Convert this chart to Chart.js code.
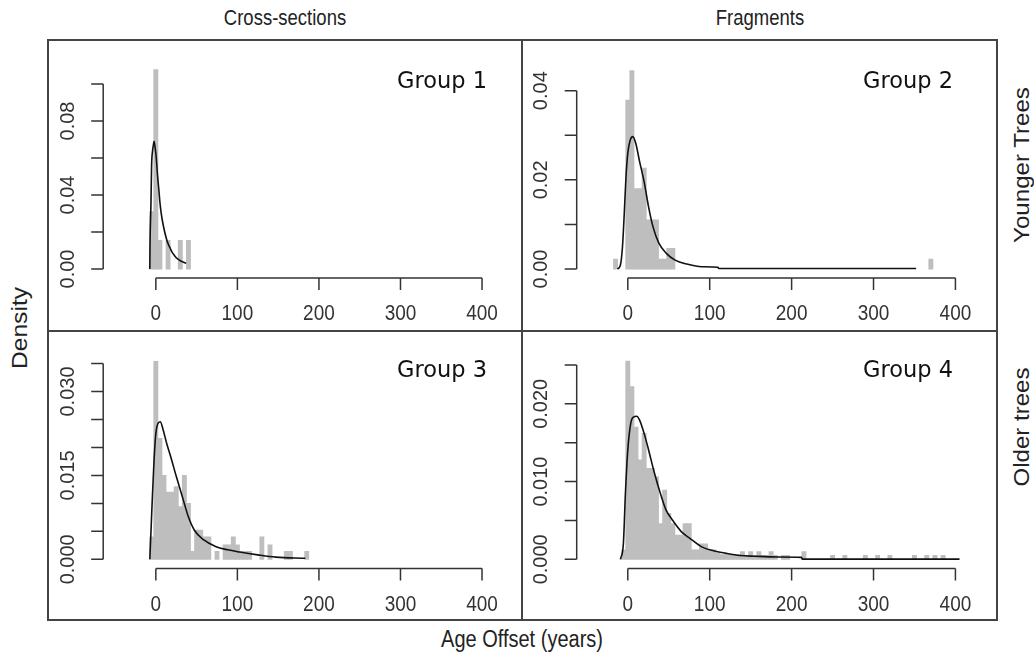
<!DOCTYPE html>
<html>
<head>
<meta charset="utf-8">
<script src="https://cdn.jsdelivr.net/npm/chart.js@4.4.1/dist/chart.umd.min.js"></script>
<style>
body { margin: 0; background: #fff; width: 1034px; height: 656px; position: relative; overflow: hidden;
       font-family: "Liberation Sans", Arial, sans-serif; color: #222; }
canvas { position: absolute; }
.line { position: absolute; background: #444; }
.txt { position: absolute; white-space: nowrap; transform: translate(-50%, -50%) scaleY(1.15); }
.rot { transform: translate(-50%, -50%) rotate(-90deg) scaleX(1.12); }
.grp { font-family: "DejaVu Sans", Verdana, sans-serif; font-size: 22.5px; color: #111; transform: translate(-50%, -50%); }
</style>
</head>
<body>

<div class="line" style="left:47px;top:39px;width:951px;height:2px"></div>
<div class="line" style="left:47px;top:619px;width:951px;height:2px"></div>
<div class="line" style="left:47px;top:39px;width:2px;height:582px"></div>
<div class="line" style="left:996px;top:39px;width:2px;height:582px"></div>
<div class="line" style="left:521px;top:39px;width:2px;height:582px"></div>
<div class="line" style="left:47px;top:330px;width:951px;height:2px"></div>

<canvas id="g1" width="474" height="291" style="left:48px;top:40px"></canvas>
<canvas id="g2" width="475" height="291" style="left:522px;top:40px"></canvas>
<canvas id="g3" width="474" height="290" style="left:48px;top:331px"></canvas>
<canvas id="g4" width="475" height="290" style="left:522px;top:331px"></canvas>

<div class="txt" style="left:285px;top:18px;font-size:18.5px">Cross-sections</div>
<div class="txt" style="left:760px;top:18px;font-size:18.5px">Fragments</div>
<div class="txt rot" style="left:1022px;top:165px;font-size:21.5px">Younger Trees</div>
<div class="txt rot" style="left:1022px;top:427px;font-size:21.5px">Older trees</div>
<div class="txt rot" style="left:20px;top:328px;font-size:22px">Density</div>
<div class="txt" style="left:522px;top:640px;font-size:20px">Age Offset (years)</div>

<div class="txt grp" style="left:442px;top:80px">Group 1</div>
<div class="txt grp" style="left:908px;top:80px">Group 2</div>
<div class="txt grp" style="left:442px;top:369px">Group 3</div>
<div class="txt grp" style="left:908px;top:369px">Group 4</div>

<script>
// x axis (age offset, years) shared by all panels
const xTicks = [0, 100, 200, 300, 400];
const xTickLabels = ['0', '100', '200', '300', '400'];

// Group 1: cross-sections, younger trees
const g1Bins = [-5, 0, 5, 15, 30, 40];
const g1Density = [0.031, 0.1077, 0.0154, 0.0154, 0.0154, 0.0154];
const g1CurveX = [-7.4, -7.2, -6.0, -5.2, -4.0, -3.0, -2.2, -1.0, 0.5, 2.0, 3.7, 5.0, 6.6, 8.5, 10.3, 12.0, 14.0, 17.0, 19.5, 22.0, 25.0, 28.0, 30.6, 34.0, 37.2];
const g1CurveY = [0, 0.011, 0.035, 0.056, 0.064, 0.067, 0.069, 0.066, 0.060, 0.051, 0.0427, 0.036, 0.0301, 0.025, 0.0211, 0.018, 0.0148, 0.0118, 0.0094, 0.0078, 0.0061, 0.0051, 0.0043, 0.0036, 0.0031];
const g1YTicks = [0, 0.02, 0.04, 0.06, 0.08, 0.10];
const g1YLabels = ['0.00', '', '0.04', '', '0.08', ''];

// Group 2: fragments, younger trees
const g2Bins = [-15, 0, 5, 10, 15, 20, 25, 30, 35, 40, 45, 50, 55, 370];
const g2Density = [0.0022, 0.0379, 0.0445, 0.018, 0.018, 0.0226, 0.011, 0.011, 0.011, 0.0022, 0.0022, 0.0046, 0.0046, 0.0022];
const g2CurveX = [-12.6, -9, -6.5, -4.3, -2.2, 0, 2.9, 6.1, 9.7, 14.4, 19.9, 25.3, 30.7, 37.9, 47, 57.8, 72.2, 90, 110, 111, 200, 352];
const g2CurveY = [0, 0.0009, 0.005, 0.0125, 0.0207, 0.026, 0.0289, 0.0297, 0.0282, 0.0241, 0.0196, 0.014, 0.0095, 0.0058, 0.0035, 0.002, 0.0011, 0.0005, 0.0004, 0.0001, 0.0001, 0.0001];
const g2YTicks = [0, 0.01, 0.02, 0.03, 0.04];
const g2YLabels = ['0.00', '', '0.02', '', '0.04'];

// Group 3: cross-sections, older trees
const g3Bins = [-5, 0, 5, 10, 15, 20, 25, 30, 35, 40, 45, 50, 55, 60, 65, 75, 85, 90, 95, 100, 105, 110, 115, 130, 140, 160, 165, 185];
const g3Density = [0.004, 0.0354, 0.0216, 0.015, 0.012, 0.012, 0.013, 0.0094, 0.015, 0.010, 0.0014, 0.0052, 0.0052, 0.004, 0.004, 0.0014, 0.0026, 0.0026, 0.004, 0.0026, 0.0014, 0.0014, 0.0014, 0.004, 0.0026, 0.0014, 0.0014, 0.0014];
const g3CurveX = [-7.4, -5.9, -4.4, -2.2, 0, 3, 5.5, 8.5, 13.3, 17.7, 25.1, 32.5, 39.9, 47.3, 58.4, 73.2, 88, 102.8, 125, 147, 183.4];
const g3CurveY = [0, 0.0052, 0.0106, 0.0177, 0.0225, 0.0244, 0.0246, 0.0234, 0.0207, 0.0186, 0.0148, 0.0112, 0.0076, 0.0052, 0.0035, 0.0023, 0.0017, 0.0013, 0.0008, 0.0004, 0.0002];
const g3YTicks = [0, 0.005, 0.010, 0.015, 0.020, 0.025, 0.030, 0.035];
const g3YLabels = ['0.000', '', '', '0.015', '', '', '0.030', ''];

// Group 4: fragments, older trees
const g4Bins = [-5, 0, 5, 10, 15, 20, 25, 30, 35, 40, 45, 50, 55, 60, 65, 70, 75, 80, 85, 90, 95, 100, 105, 110, 115, 120, 125, 130, 135, 140, 145, 150, 155, 160, 165, 170, 175, 180, 190, 195, 215, 250, 265, 290, 305, 320, 350, 365, 375, 385];
const g4Density = [0.0012, 0.0255, 0.0222, 0.017, 0.0128, 0.0162, 0.0117, 0.0117, 0.0106, 0.0046, 0.0089, 0.0059, 0.0046, 0.0031, 0.0031, 0.0046, 0.0046, 0.0012, 0.0012, 0.002, 0.002, 0.0012, 0.0012, 0.0008, 0.0006, 0.0006, 0.0006, 0.0006, 0.0006, 0.001, 0.0005, 0.001, 0.0005, 0.001, 0.0005, 0.0005, 0.001, 0.0005, 0.0005, 0.0005, 0.001, 0.0005, 0.0005, 0.0005, 0.0005, 0.0005, 0.0005, 0.0005, 0.0005, 0.0005];
const g4CurveX = [-9, -5.4, -2.9, 0, 3.6, 7, 10.8, 14.4, 19.9, 25.3, 32.5, 39.7, 46.9, 54.2, 65, 75.8, 90.3, 104.7, 119, 137, 155, 184, 212, 213, 405];
const g4CurveY = [0, 0.002, 0.0085, 0.0141, 0.0175, 0.0183, 0.0184, 0.0179, 0.0162, 0.0141, 0.0111, 0.0085, 0.0063, 0.0051, 0.0036, 0.0027, 0.0016, 0.0011, 0.0008, 0.0005, 0.0004, 0.0003, 0.00025, 0.00003, 0.00003];
const g4YTicks = [0, 0.005, 0.010, 0.015, 0.020, 0.025];
const g4YLabels = ['0.000', '', '0.010', '', '0.020', ''];

// R style axes: drawn only over the tick range, offset from the plot region
const rAxes = {
    id: 'rAxes',
    afterDraw(chart, args, opts) {
        const { ctx, chartArea } = chart;
        const xs = chart.scales.x;
        const ys = chart.scales.y;
        ctx.save();
        ctx.strokeStyle = '#333';
        ctx.fillStyle = '#333';
        ctx.lineWidth = 1.5;
        ctx.textAlign = 'center';
        ctx.textBaseline = 'middle';

        const xb = chartArea.bottom;
        ctx.beginPath();
        ctx.moveTo(xs.getPixelForValue(opts.xTicks[0]), xb);
        ctx.lineTo(xs.getPixelForValue(opts.xTicks[opts.xTicks.length - 1]), xb);
        opts.xTicks.forEach(v => {
            const px = xs.getPixelForValue(v);
            ctx.moveTo(px, xb);
            ctx.lineTo(px, xb + 12);
        });
        const yl = chartArea.left;
        ctx.moveTo(yl, ys.getPixelForValue(opts.yTicks[0]));
        ctx.lineTo(yl, ys.getPixelForValue(opts.yTicks[opts.yTicks.length - 1]));
        opts.yTicks.forEach(v => {
            const py = ys.getPixelForValue(v);
            ctx.moveTo(yl, py);
            ctx.lineTo(yl - 12, py);
        });
        ctx.stroke();

        ctx.font = '19px "Liberation Sans", Arial, sans-serif';
        opts.xTicks.forEach((v, i) => {
            ctx.save();
            ctx.translate(xs.getPixelForValue(v), xb + 36);
            ctx.scale(1, 1.15);
            ctx.fillText(opts.xLabels[i], 0, 0);
            ctx.restore();
        });
        ctx.font = '20px "Liberation Sans", Arial, sans-serif';
        opts.yTicks.forEach((v, i) => {
            if (!opts.yLabels[i]) return;
            ctx.save();
            ctx.translate(yl - 35, ys.getPixelForValue(v));
            ctx.rotate(-Math.PI / 2);
            ctx.fillText(opts.yLabels[i], 0, 0);
            ctx.restore();
        });
        ctx.restore();
    }
};

const panelLayout = [
    { pad: { left: 55.2, right: 2, top: 22, bottom: 53 }, xMin: -39, xMax: 421, yMin: -0.00486, yMax: 0.1119 },
    { pad: { left: 54.7, right: 4.4, top: 22, bottom: 53 }, xMin: -37, xMax: 420, yMin: -0.00202, yMax: 0.04644 },
    { pad: { left: 55.2, right: 2, top: 22, bottom: 52.5 }, xMin: -39, xMax: 421, yMin: -0.00164, yMax: 0.03688 },
    { pad: { left: 54.7, right: 4.4, top: 22, bottom: 52.5 }, xMin: -37, xMax: 420, yMin: -0.00118, yMax: 0.02654 },
];

function makePanel(id, lay, bins, dens, cx, cy, yTicks, yLabels) {
    const canvas = document.getElementById(id);
    return new Chart(canvas, {
        type: 'bar',
        data: {
            datasets: [
                {
                    type: 'line',
                    data: cx.map((x, i) => ({ x, y: cy[i] })),
                    borderColor: '#111',
                    borderWidth: 1.6,
                    pointRadius: 0,
                    cubicInterpolationMode: 'monotone',
                    order: 0
                },
                {
                    type: 'bar',
                    data: bins.map((x, i) => ({ x, y: dens[i] })),
                    backgroundColor: '#bebebe',
                    borderWidth: 0,
                    barPercentage: 1,
                    categoryPercentage: 1,
                    inflateAmount: 0.4,
                    order: 1
                }
            ]
        },
        options: {
            responsive: false,
            animation: false,
            devicePixelRatio: 1,
            layout: { padding: lay.pad },
            scales: {
                x: { type: 'linear', min: lay.xMin, max: lay.xMax, display: false },
                y: { type: 'linear', min: lay.yMin, max: lay.yMax, display: false }
            },
            plugins: {
                legend: { display: false },
                tooltip: { enabled: false },
                rAxes: { xTicks: xTicks, xLabels: xTickLabels, yTicks: yTicks, yLabels: yLabels }
            }
        },
        plugins: [rAxes]
    });
}

makePanel('g1', panelLayout[0], g1Bins, g1Density, g1CurveX, g1CurveY, g1YTicks, g1YLabels);
makePanel('g2', panelLayout[1], g2Bins, g2Density, g2CurveX, g2CurveY, g2YTicks, g2YLabels);
makePanel('g3', panelLayout[2], g3Bins, g3Density, g3CurveX, g3CurveY, g3YTicks, g3YLabels);
makePanel('g4', panelLayout[3], g4Bins, g4Density, g4CurveX, g4CurveY, g4YTicks, g4YLabels);
</script>
</body>
</html>
